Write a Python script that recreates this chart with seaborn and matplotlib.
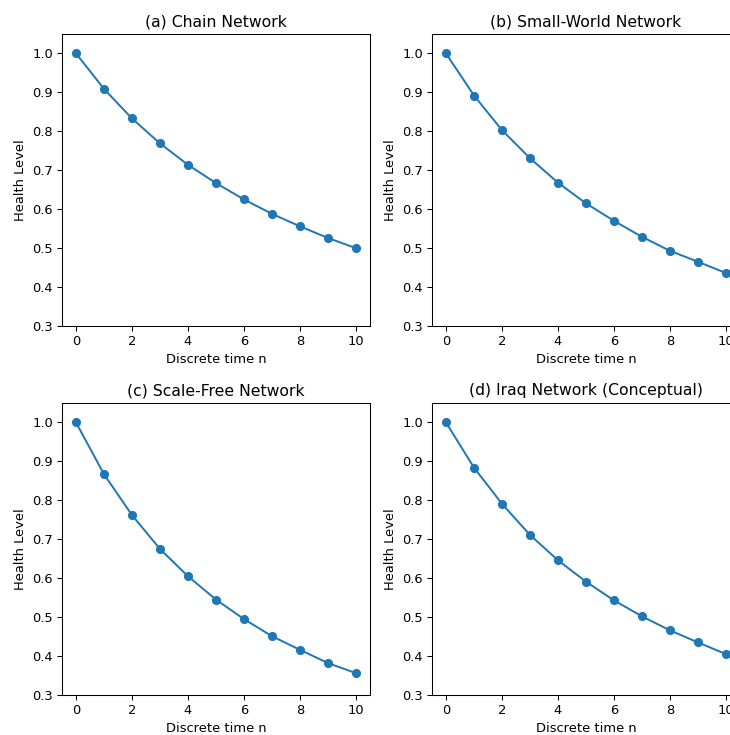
import matplotlib
matplotlib.use("Agg")
import matplotlib.pyplot as plt
import seaborn as sns
import pandas as pd

time_steps = [0, 1, 2, 3, 4, 5, 6, 7, 8, 9, 10]

chain = [1.0, 0.909, 0.833, 0.769, 0.714, 0.667, 0.625, 0.588, 0.556, 0.526, 0.500]
small_world = [1.0, 0.892, 0.803, 0.731, 0.668, 0.615, 0.570, 0.529, 0.493, 0.465, 0.436]
scale_free = [1.0, 0.867, 0.762, 0.675, 0.605, 0.545, 0.495, 0.451, 0.416, 0.382, 0.356]
iraq = [1.0, 0.884, 0.791, 0.711, 0.646, 0.591, 0.543, 0.502, 0.466, 0.435, 0.405]

titles = ["(a) Chain Network", "(b) Small-World Network",
          "(c) Scale-Free Network", "(d) Iraq Network (Conceptual)"]
series = [chain, small_world, scale_free, iraq]

W, H = 730, 735
DPI = 94
fig = plt.figure(figsize=(W / DPI, H / DPI), dpi=DPI)

# axes boxes in pixels: (left, top, width, height)
boxes = [(62, 34, 308, 292), (432, 34, 308, 292),
         (62, 403, 308, 292), (432, 403, 308, 292)]

for (lx, ty, w, h), title, vals in zip(boxes, titles, series):
    ax = fig.add_axes([lx / W, 1 - (ty + h) / H, w / W, h / H])
    df = pd.DataFrame({"n": time_steps, "health": vals})
    sns.lineplot(data=df, x="n", y="health", marker="o", markersize=7,
                 markeredgewidth=0, color="#1f77b4", linewidth=1.5, ax=ax)
    ax.set_xlim(-0.5, 10.5)
    ax.set_ylim(0.3, 1.05)
    ax.set_xticks([0, 2, 4, 6, 8, 10])
    ax.set_yticks([0.3, 0.4, 0.5, 0.6, 0.7, 0.8, 0.9, 1.0])
    ax.set_title(title, fontsize=12)
    ax.set_xlabel("Discrete time n", fontsize=10)
    ax.set_ylabel("Health Level", fontsize=10)

fig.savefig("out.png", dpi=DPI)
